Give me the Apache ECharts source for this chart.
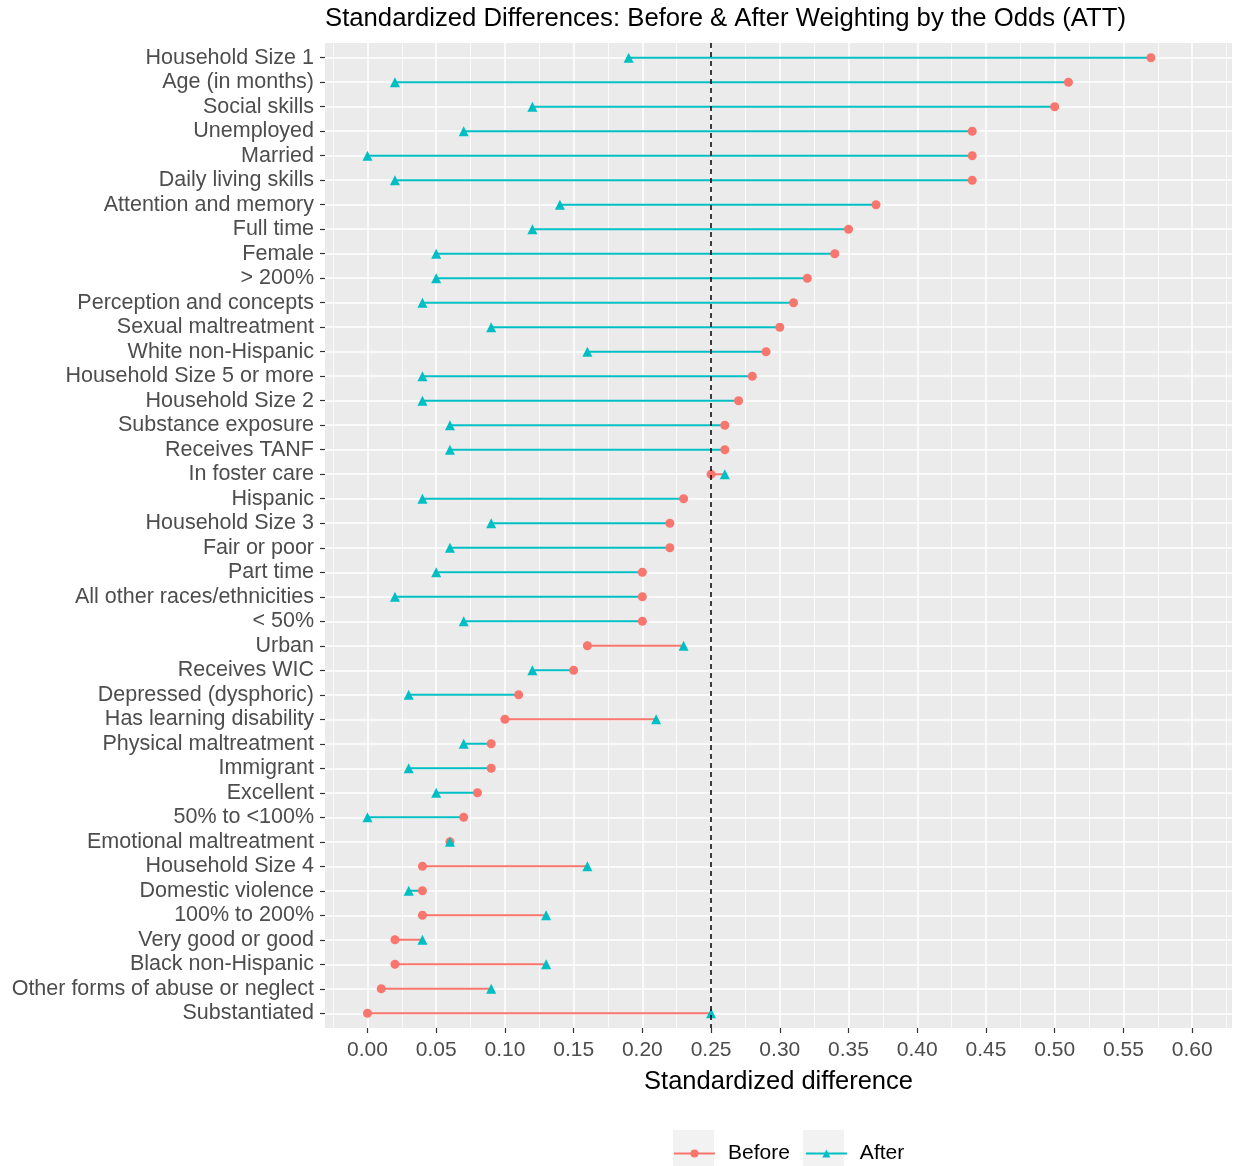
<!DOCTYPE html>
<html>
<head>
<meta charset="utf-8">
<script src="https://cdn.jsdelivr.net/npm/echarts@6/dist/echarts.min.js"></script>
<style>
html, body { margin: 0; background: #fff; }
#chart { width: 1236px; height: 1166px; }
</style>
</head>
<body>
<div id="chart"></div>
<script>
var categories = [
    'Household Size 1', 'Age (in months)', 'Social skills', 'Unemployed', 'Married',
    'Daily living skills', 'Attention and memory', 'Full time', 'Female', '> 200%',
    'Perception and concepts', 'Sexual maltreatment', 'White non-Hispanic', 'Household Size 5 or more',
    'Household Size 2', 'Substance exposure', 'Receives TANF', 'In foster care', 'Hispanic',
    'Household Size 3', 'Fair or poor', 'Part time', 'All other races/ethnicities', '< 50%',
    'Urban', 'Receives WIC', 'Depressed (dysphoric)', 'Has learning disability',
    'Physical maltreatment', 'Immigrant', 'Excellent', '50% to <100%', 'Emotional maltreatment',
    'Household Size 4', 'Domestic violence', '100% to 200%', 'Very good or good',
    'Black non-Hispanic', 'Other forms of abuse or neglect', 'Substantiated'
];
var beforeValues = [
    0.57, 0.51, 0.50, 0.44, 0.44,
    0.44, 0.37, 0.35, 0.34, 0.32,
    0.31, 0.30, 0.29, 0.28,
    0.27, 0.26, 0.26, 0.25, 0.23,
    0.22, 0.22, 0.20, 0.20, 0.20,
    0.16, 0.15, 0.11, 0.10,
    0.09, 0.09, 0.08, 0.07, 0.06,
    0.04, 0.04, 0.04, 0.02,
    0.02, 0.01, 0.00
];
var afterValues = [
    0.19, 0.02, 0.12, 0.07, 0.00,
    0.02, 0.14, 0.12, 0.05, 0.05,
    0.04, 0.09, 0.16, 0.04,
    0.04, 0.06, 0.06, 0.26, 0.04,
    0.09, 0.06, 0.05, 0.02, 0.07,
    0.23, 0.12, 0.03, 0.21,
    0.07, 0.03, 0.05, 0.00, 0.06,
    0.16, 0.03, 0.13, 0.04,
    0.13, 0.09, 0.25
];
var xTicks = [0, 0.05, 0.10, 0.15, 0.20, 0.25, 0.30, 0.35, 0.40, 0.45, 0.50, 0.55, 0.60];
var xMinorTicks = [-0.025, 0.025, 0.075, 0.125, 0.175, 0.225, 0.275, 0.325, 0.375, 0.425, 0.475, 0.525, 0.575, 0.625];
var threshold = 0.25;

var RED = '#F8766D', CYAN = '#00BFC4';

// segment takes red when after > before, cyan otherwise
var redSeg = [], cyanSeg = [], beforePts = [], afterPts = [];
var rowIdx = [];
categories.forEach(function (c, i) {
    rowIdx.push(i);
    var seg = afterValues[i] > beforeValues[i] ? redSeg : cyanSeg;
    seg.push([beforeValues[i], i], [afterValues[i], i], '-');
    beforePts.push([beforeValues[i], i], '-');
    afterPts.push([afterValues[i], i], '-');
});

var chart = echarts.init(document.getElementById('chart'));

var option = {
    animation: false,
    title: {
        text: 'Standardized Differences: Before & After Weighting by the Odds (ATT)',
        left: 321,
        top: 4,
        padding: [2, 4],
        textStyle: { fontFamily: 'Liberation Sans', fontWeight: 'normal', fontSize: 25.7, color: '#000' }
    },
    legend: {
        data: ['Before', 'After'],
        left: 673,
        top: 1143,
        padding: 0,
        itemWidth: 41,
        itemHeight: 10,
        itemGap: 15,
        textStyle: { fontFamily: 'Liberation Sans', fontSize: 21, color: '#000', padding: [0, 0, 0, 8] }
    },
    graphic: [
        { type: 'rect', left: 673, top: 1130, shape: { width: 41, height: 36 }, style: { fill: '#F2F2F2' }, z: -1 },
        { type: 'rect', left: 803, top: 1130, shape: { width: 41, height: 36 }, style: { fill: '#F2F2F2' }, z: -1 }
    ],
    grid: {
        left: 325, right: 4, top: 43, bottom: 138,
        show: true, backgroundColor: '#EBEBEB', borderWidth: 0
    },
    xAxis: [{
        type: 'value',
        min: -0.0309,
        max: 0.629,
        name: 'Standardized difference',
        nameLocation: 'middle',
        nameGap: 41,
        nameTextStyle: { fontFamily: 'Liberation Sans', fontSize: 25.5, color: '#000' },
        axisLine: { show: false, onZero: false },
        axisTick: { show: true, length: 5, customValues: xTicks, lineStyle: { color: '#333', width: 1.2 } },
        axisLabel: {
            customValues: xTicks,
            margin: 12,
            fontFamily: 'Liberation Sans', fontSize: 21, color: '#4D4D4D',
            formatter: function (v) { return v.toFixed(2); }
        },
        splitLine: { show: true, lineStyle: { color: '#fff', width: 1.5 } }
    }, {
        type: 'value',
        min: -0.0309,
        max: 0.629,
        axisLine: { show: false, onZero: false },
        axisLabel: { show: false },
        axisTick: { show: false, customValues: xMinorTicks },
        splitLine: { show: true, lineStyle: { color: '#fff', width: 0.8 } }
    }],
    yAxis: {
        type: 'value',
        inverse: true,
        min: -0.6,
        max: 39.6,
        axisLine: { show: false, onZero: false },
        axisTick: { show: true, length: 5, customValues: rowIdx, lineStyle: { color: '#333', width: 1.2 } },
        axisLabel: {
            customValues: rowIdx,
            margin: 11,
            padding: [4, 0, 0, 0],
            fontFamily: 'Liberation Sans', fontSize: 21.5, color: '#4D4D4D',
            formatter: function (v) { return categories[v]; }
        },
        splitLine: { show: true, lineStyle: { color: '#fff', width: 1.5 } }
    },
    series: [{
        name: 'segRed',
        type: 'line',
        data: redSeg,
        showSymbol: false,
        lineStyle: { color: RED, width: 2 },
        silent: true, z: 2
    }, {
        name: 'segCyan',
        type: 'line',
        data: cyanSeg,
        showSymbol: false,
        lineStyle: { color: CYAN, width: 2 },
        silent: true, z: 2
    }, {
        name: 'Before',
        type: 'line',
        data: beforePts,
        symbol: 'circle',
        symbolSize: 9,
        itemStyle: { color: RED },
        lineStyle: { color: RED, width: 1.5 },
        silent: true, z: 3
    }, {
        name: 'After',
        type: 'line',
        data: afterPts,
        symbol: 'triangle',
        symbolSize: 10,
        itemStyle: { color: CYAN },
        lineStyle: { color: CYAN, width: 1.5 },
        silent: true, z: 4
    }, {
        name: 'threshold',
        type: 'line',
        data: [],
        z: 5,
        markLine: {
            silent: true,
            symbol: 'none',
            label: { show: false },
            lineStyle: { color: '#000', type: [5, 4], width: 1.5 },
            data: [{ xAxis: threshold }]
        }
    }]
};

chart.setOption(option);
</script>
</body>
</html>
